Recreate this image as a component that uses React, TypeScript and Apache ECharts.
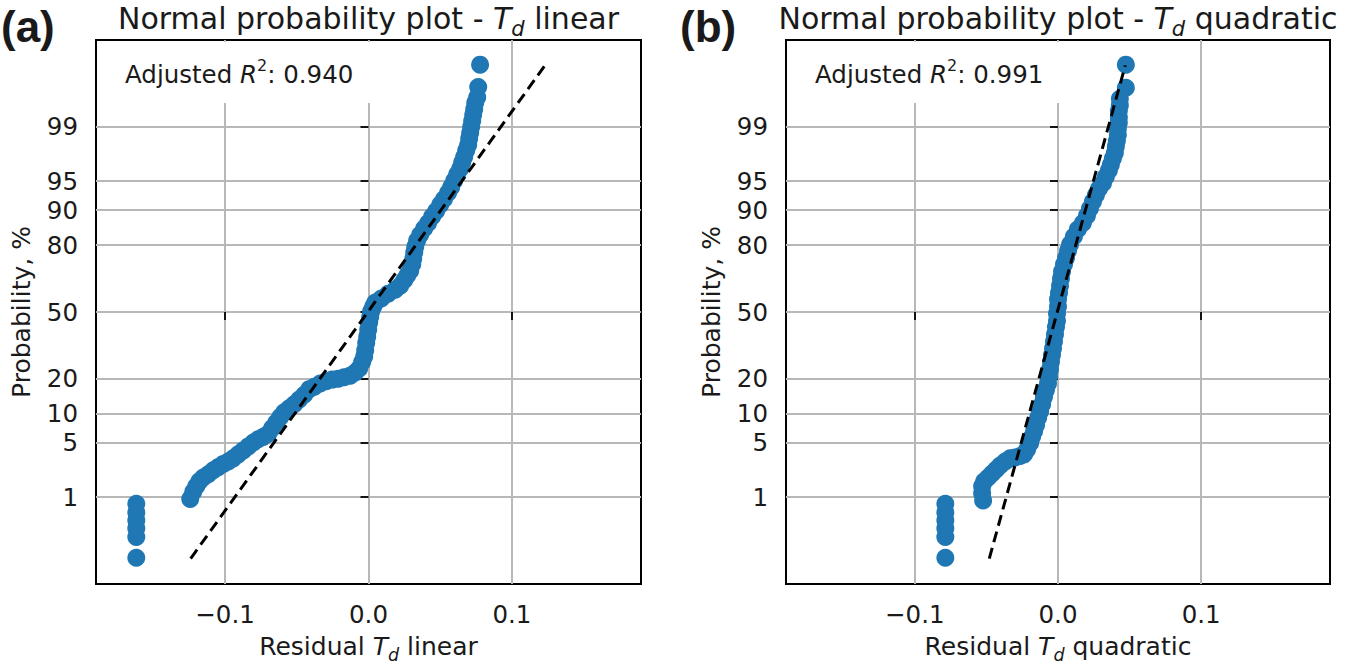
import React, { useEffect, useRef } from "react";
import * as echarts from "echarts";

// ---------- data ----------
const PROB_TICKS = [1, 5, 10, 20, 50, 80, 90, 95, 99];
const X_TICKS = [-0.1, 0, 0.1];
const X_LIMIT = 0.19;
const Z_LIMIT = 3.42;

// panel (a): residuals of the linear T_d model vs theoretical normal quantile
const residA = [
  -0.1619, -0.1619, -0.1619, -0.1619, -0.1619, -0.1619,
  -0.1243, -0.1222, -0.1201, -0.118, -0.1152, -0.1117, -0.1082, -0.1047, -0.1012, -0.0978,
  -0.0943, -0.0908, -0.0873, -0.0838, -0.0803, -0.0769, -0.0734, -0.0699, -0.0671, -0.0643,
  -0.0615, -0.0588, -0.0553, -0.0518, -0.0483, -0.0448, -0.0413, -0.0378, -0.0337, -0.0295,
  -0.0253, -0.0211, -0.017, -0.0128, -0.0093, -0.0065, -0.0044, -0.003, -0.0023, -0.0016,
  -0.0009, -0.0002, 0.0005, 0.0012, 0.0019, 0.0033,
  0.0047, 0.0089, 0.0137, 0.0186, 0.0221, 0.0249, 0.027, 0.0291, 0.0305, 0.0312,
  0.0319, 0.0326, 0.0339, 0.036, 0.0388, 0.0416, 0.0444, 0.0472, 0.05, 0.0527,
  0.0555, 0.0576, 0.0597, 0.0618, 0.0639, 0.0653, 0.0667, 0.0681, 0.0695, 0.0702,
  0.0709, 0.0716, 0.0723, 0.073, 0.0737, 0.0744, 0.0758, 0.0765, 0.0778,
];
const quantA = [
  -3.09, -2.83, -2.72, -2.62, -2.52, -2.41,
  -2.35, -2.26, -2.19, -2.13, -2.08, -2.04, -1.99, -1.95, -1.91, -1.88,
  -1.84, -1.79, -1.74, -1.69, -1.64, -1.6, -1.57, -1.53, -1.46, -1.39,
  -1.32, -1.26, -1.21, -1.16, -1.1, -1.04, -0.97, -0.94, -0.9, -0.87,
  -0.85, -0.84, -0.82, -0.8, -0.76, -0.71, -0.63, -0.56, -0.48, -0.39,
  -0.31, -0.22, -0.13, -0.06, 0.01, 0.07,
  0.12, 0.17, 0.23, 0.28, 0.33, 0.4, 0.46, 0.52, 0.6, 0.67,
  0.75, 0.82, 0.9, 0.97, 1.05, 1.12, 1.2, 1.27, 1.35, 1.42,
  1.5, 1.57, 1.65, 1.73, 1.8, 1.88, 1.95, 2.03, 2.1, 2.18,
  2.25, 2.33, 2.4, 2.48, 2.55, 2.63, 2.7, 2.83, 3.11,
];
const fitResidA = [-0.124, 0.123];
const fitQuantA = [-3.1, 3.1];

// panel (b): residuals of the quadratic T_d model
const residB = [
  -0.0787, -0.0787, -0.0787, -0.0787, -0.0787, -0.0787,
  -0.0523, -0.053, -0.053, -0.0516, -0.0488, -0.046, -0.0432, -0.0404, -0.0369, -0.0334,
  -0.03, -0.0265, -0.0237, -0.0216, -0.0195, -0.0181, -0.0167, -0.0153, -0.0139, -0.0125,
  -0.0111, -0.0098, -0.0084, -0.007, -0.0063, -0.0056, -0.0049, -0.0042, -0.0035, -0.0028,
  -0.0021, -0.0014, -0.0007, -0.0007, 0.0, 0.0, 0.0007, 0.0014, 0.0021, 0.0028,
  0.0042, 0.0056, 0.007, 0.0084, 0.0111, 0.0139, 0.0174, 0.0202, 0.0223, 0.0244,
  0.0265, 0.0286, 0.0314, 0.0334, 0.0355, 0.0369, 0.0383, 0.0397, 0.0404, 0.0411,
  0.0418, 0.0418, 0.0425, 0.0425, 0.0425, 0.0432, 0.0432, 0.0474, 0.0474,
];
const quantB = [
  -3.09, -2.83, -2.72, -2.62, -2.52, -2.41,
  -2.37, -2.28, -2.19, -2.13, -2.08, -2.03, -1.98, -1.93, -1.88, -1.84,
  -1.83, -1.81, -1.79, -1.73, -1.65, -1.57, -1.5, -1.42, -1.33, -1.25,
  -1.16, -1.07, -0.98, -0.9, -0.81, -0.72, -0.63, -0.54, -0.46, -0.37,
  -0.28, -0.19, -0.11, -0.02, 0.07, 0.16, 0.24, 0.33, 0.42, 0.51,
  0.6, 0.68, 0.77, 0.85, 0.95, 1.04, 1.12, 1.21, 1.3, 1.39,
  1.47, 1.55, 1.62, 1.7, 1.78, 1.85, 1.93, 2.0, 2.08, 2.15,
  2.23, 2.3, 2.38, 2.45, 2.53, 2.6, 2.68, 2.82, 3.11,
];
const fitResidB = [-0.048, 0.047];
const fitQuantB = [-3.1, 3.1];

const R2_A = "0.940";
const R2_B = "0.991";

// ---------- probability scale helpers ----------
function normInv(p: number): number {
  const a = [-39.69683028665376, 220.9460984245205, -275.9285104469687, 138.357751867269, -30.66479806614716, 2.506628277459239];
  const b = [-54.47609879822406, 161.5858368580409, -155.6989798598866, 66.80131188771972, -13.28068155288572];
  const c = [-0.007784894002430293, -0.3223964580411365, -2.400758277161838, -2.549732539343734, 4.374664141464968, 2.938163982698783];
  const d = [0.007784695709041462, 0.3224671290700398, 2.445134137142996, 3.754408661907416];
  const pl = 0.02425;
  if (p < pl) {
    const q = Math.sqrt(-2 * Math.log(p));
    return (((((c[0] * q + c[1]) * q + c[2]) * q + c[3]) * q + c[4]) * q + c[5]) / ((((d[0] * q + d[1]) * q + d[2]) * q + d[3]) * q + 1);
  }
  if (p > 1 - pl) {
    const q = Math.sqrt(-2 * Math.log(1 - p));
    return -(((((c[0] * q + c[1]) * q + c[2]) * q + c[3]) * q + c[4]) * q + c[5]) / ((((d[0] * q + d[1]) * q + d[2]) * q + d[3]) * q + 1);
  }
  const q = p - 0.5;
  const r = q * q;
  return ((((((a[0] * r + a[1]) * r + a[2]) * r + a[3]) * r + a[4]) * r + a[5]) * q) / (((((b[0] * r + b[1]) * r + b[2]) * r + b[3]) * r + b[4]) * r + 1);
}
const Z_TICKS = PROB_TICKS.map((p) => normInv(p / 100));

const FONT = "DejaVu Sans";
const TXT = "#1a1a1a";
const BLUE = "#1f77b4";

function probLabel(v: number): string {
  let best = 0;
  for (let i = 1; i < Z_TICKS.length; i++) {
    if (Math.abs(Z_TICKS[i] - v) < Math.abs(Z_TICKS[best] - v)) best = i;
  }
  return String(PROB_TICKS[best]);
}
function xLabel(v: number): string {
  if (Math.abs(v) < 1e-9) return "0.0";
  return (v < 0 ? "\u2212" : "") + Math.abs(v).toFixed(1);
}

const zip = (xs: number[], ys: number[]) => xs.map((x, i) => [x, ys[i]]);

function xAxisFor(gridIndex: number) {
  return {
    type: "value",
    gridIndex,
    min: -X_LIMIT,
    max: X_LIMIT,
    axisLine: { show: false },
    axisTick: { show: true, length: 8, customValues: X_TICKS, lineStyle: { color: "#000", width: 1.8 } },
    axisLabel: { customValues: X_TICKS, formatter: xLabel, margin: 18, fontFamily: FONT, fontSize: 24.5, color: TXT },
    splitLine: { show: true, lineStyle: { color: "#b8b8b8", width: 2 } },
  };
}
function yAxisFor(gridIndex: number) {
  return {
    type: "value",
    gridIndex,
    min: -Z_LIMIT,
    max: Z_LIMIT,
    axisLine: { show: false },
    axisTick: { show: true, length: 8, customValues: Z_TICKS, lineStyle: { color: "#000", width: 1.8 } },
    axisLabel: { customValues: Z_TICKS, formatter: probLabel, margin: 18, fontFamily: FONT, fontSize: 24.5, color: TXT },
    splitLine: { show: true, lineStyle: { color: "#b8b8b8", width: 2 } },
  };
}

// rich styles for "T_d": the subscript token is pushed down with top padding
function richMath(main: number, sub: number, subShift: number) {
  return {
    a: { fontFamily: FONT, fontSize: main, verticalAlign: "top", fill: TXT },
    i: { fontFamily: FONT, fontSize: main, fontStyle: "italic", verticalAlign: "top", fill: TXT },
    s: { fontFamily: FONT, fontSize: sub, fontStyle: "italic", verticalAlign: "top", padding: [subShift, 0, 0, 0], fill: TXT },
  };
}

function textEl(text: string, x: number, y: number, align: string, vAlign: string, rich: any, extra: any = {}) {
  return {
    type: "text",
    z: 10,
    x,
    y,
    ...extra,
    style: {
      text,
      rich,
      fill: TXT,
      fontFamily: FONT,
      align,
      textAlign: align,
      verticalAlign: vAlign,
      textVerticalAlign: vAlign,
    },
  };
}

function plainText(text: string, x: number, y: number, align: string, vAlign: string, size: number, weight: string, family: string, extra: any = {}) {
  return {
    type: "text",
    z: 10,
    x,
    y,
    ...extra,
    style: {
      text,
      fill: TXT,
      fontFamily: family,
      fontSize: size,
      fontWeight: weight,
      align,
      textAlign: align,
      verticalAlign: vAlign,
      textVerticalAlign: vAlign,
    },
  };
}

export default function App() {
  const ref = useRef<HTMLDivElement>(null);
  useEffect(() => {
    if (!ref.current) return;
    const chart = echarts.init(ref.current, undefined, { renderer: "svg" });
    const titleRich = richMath(30, 21, 14.5);
    const labelRich = richMath(25, 17.5, 12);
    const annRich = {
      a: { fontFamily: FONT, fontSize: 24.5, verticalAlign: "top", padding: [4, 0, 0, 0], fill: TXT },
      i: { fontFamily: FONT, fontSize: 24.5, fontStyle: "italic", verticalAlign: "top", padding: [4, 0, 0, 0], fill: TXT },
      p: { fontFamily: FONT, fontSize: 16, verticalAlign: "top", fill: TXT },
    };
    const option: any = {
      animation: false,
      backgroundColor: "#ffffff",
      grid: [
        { left: 96, top: 40, width: 545, height: 544, show: true, borderColor: "#000", borderWidth: 2, backgroundColor: "transparent", outerBoundsMode: "none", containLabel: false },
        { left: 786, top: 40, width: 544, height: 544, show: true, borderColor: "#000", borderWidth: 2, backgroundColor: "transparent", outerBoundsMode: "none", containLabel: false },
      ],
      xAxis: [xAxisFor(0), xAxisFor(1)],
      yAxis: [yAxisFor(0), yAxisFor(1)],
      series: [
        { type: "scatter", xAxisIndex: 0, yAxisIndex: 0, data: zip(residA, quantA), symbol: "circle", symbolSize: 18, itemStyle: { color: BLUE, opacity: 1 }, z: 3, silent: true },
        { type: "line", xAxisIndex: 0, yAxisIndex: 0, data: zip(fitResidA, fitQuantA), symbol: "none", lineStyle: { color: "#000", width: 3, type: [11, 6] }, z: 4, silent: true },
        { type: "scatter", xAxisIndex: 1, yAxisIndex: 1, data: zip(residB, quantB), symbol: "circle", symbolSize: 18, itemStyle: { color: BLUE, opacity: 1 }, z: 3, silent: true },
        { type: "line", xAxisIndex: 1, yAxisIndex: 1, data: zip(fitResidB, fitQuantB), symbol: "none", lineStyle: { color: "#000", width: 3, type: [11, 6] }, z: 4, silent: true },
      ],
      graphic: [
        // white boxes behind the R^2 annotations
        { type: "rect", z: 1, shape: { x: 100, y: 42, width: 280, height: 61 }, style: { fill: "#ffffff" } },
        { type: "rect", z: 1, shape: { x: 790, y: 42, width: 280, height: 61 }, style: { fill: "#ffffff" } },
        textEl("{a|Adjusted }{i|R}{p|2}{a|: " + R2_A + "}", 125, 57.5, "left", "top", annRich),
        textEl("{a|Adjusted }{i|R}{p|2}{a|: " + R2_B + "}", 815, 57.5, "left", "top", annRich),
        // titles
        textEl("{a|Normal probability plot - }{i|T}{s|d}{a| linear}", 368.5, 3.6, "center", "top", titleRich),
        textEl("{a|Normal probability plot - }{i|T}{s|d}{a| quadratic}", 1058, 3.6, "center", "top", titleRich),
        // x-axis titles
        textEl("{a|Residual }{i|T}{s|d}{a| linear}", 368.5, 634.4, "center", "top", labelRich),
        textEl("{a|Residual }{i|T}{s|d}{a| quadratic}", 1058, 634.4, "center", "top", labelRich),
        // y-axis titles
        plainText("Probability, %", 21.5, 312, "center", "middle", 25, "normal", FONT, { rotation: Math.PI / 2 }),
        plainText("Probability, %", 711.5, 312, "center", "middle", 25, "normal", FONT, { rotation: Math.PI / 2 }),
        // panel letters
        plainText("(a)", 1, 26, "left", "middle", 44, "bold", "Liberation Sans"),
        plainText("(b)", 680, 26, "left", "middle", 44, "bold", "Liberation Sans"),
      ],
    };
    chart.setOption(option);
    return () => chart.dispose();
  }, []);
  return <div ref={ref} style={{ position: "absolute", left: 0, top: 0, width: 1346, height: 667 }} />;
}
